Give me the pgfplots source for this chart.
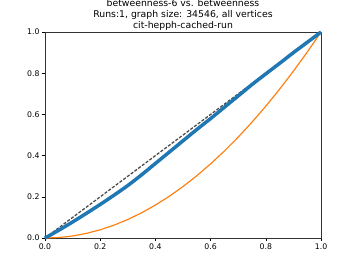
\documentclass[border=0pt]{standalone}
\usepackage{fontspec}
\setmainfont{DejaVu Sans}
\usepackage{pgfplots}
\pgfplotsset{compat=1.18}
\definecolor{mplblue}{HTML}{1F77B4}
\definecolor{mplorange}{HTML}{FF7F0E}
\newcommand{\ttl}{\fontsize{12}{14}\selectfont}
\newcommand{\tkl}{\fontsize{10}{12}\selectfont}
\begin{document}
\begin{tikzpicture}
\begin{axis}[
  scale only axis,
  width=356pt, height=265.7pt,
  xmin=0, xmax=1, ymin=0, ymax=1,
  xtick={0,0.2,0.4,0.6,0.8,1}, ytick={0,0.2,0.4,0.6,0.8,1},
  xticklabels={0.0,0.2,0.4,0.6,0.8,1.0},
  yticklabels={0.0,0.2,0.4,0.6,0.8,1.0},
  tick align=outside, tick pos=left,
  major tick length=3.5pt,
  every tick/.style={black, line width=0.8pt},
  axis line style={line width=0.8pt, black!80},
  tick label style={font=\tkl},
  /pgf/number format/assume math mode=true,
  title style={font=\ttl, align=center, anchor=south, at={(0.5,1)}, inner sep=0pt, yshift=-4pt},
  title={betweenness-6 vs. betweenness\\Runs:1, graph size: 34546, all vertices\\cit-hepph-cached-run},
  clip=false,
]
\addplot[black!72, line width=1.6pt, dash pattern=on 4pt off 2pt] coordinates {(0,0) (1,1)};
\addplot[mplorange, line width=1.5pt] coordinates {
(0,0) (0.05,0.0025) (0.1,0.01) (0.15,0.0225) (0.2,0.04) (0.25,0.0625) (0.3,0.09) (0.35,0.1225) (0.4,0.16) (0.45,0.2025) (0.5,0.25) (0.55,0.3025) (0.6,0.36) (0.65,0.4225) (0.7,0.49) (0.75,0.5625) (0.8,0.64) (0.85,0.7225) (0.9,0.81) (0.95,0.9025) (1,1)};
\addplot[mplblue, line width=4.5pt, smooth] coordinates {
(0,0) (0.05,0.038) (0.1,0.078) (0.15,0.12) (0.2,0.163) (0.25,0.208) (0.3,0.255) (0.35,0.307) (0.4,0.362) (0.45,0.417) (0.5,0.472) (0.55,0.527) (0.6,0.58) (0.65,0.635) (0.7,0.69) (0.75,0.745) (0.8,0.797) (0.85,0.848) (0.9,0.9) (0.95,0.95) (1,1)};
\coordinate (ll) at (rel axis cs:0,0);
\coordinate (ur) at (rel axis cs:1,1);
\end{axis}
\pgfresetboundingbox
\useasboundingbox ([shift={(-58pt,-38.7pt)}]ll) rectangle ([shift={(46.4pt,41.3pt)}]ur);
\end{tikzpicture}
\end{document}
